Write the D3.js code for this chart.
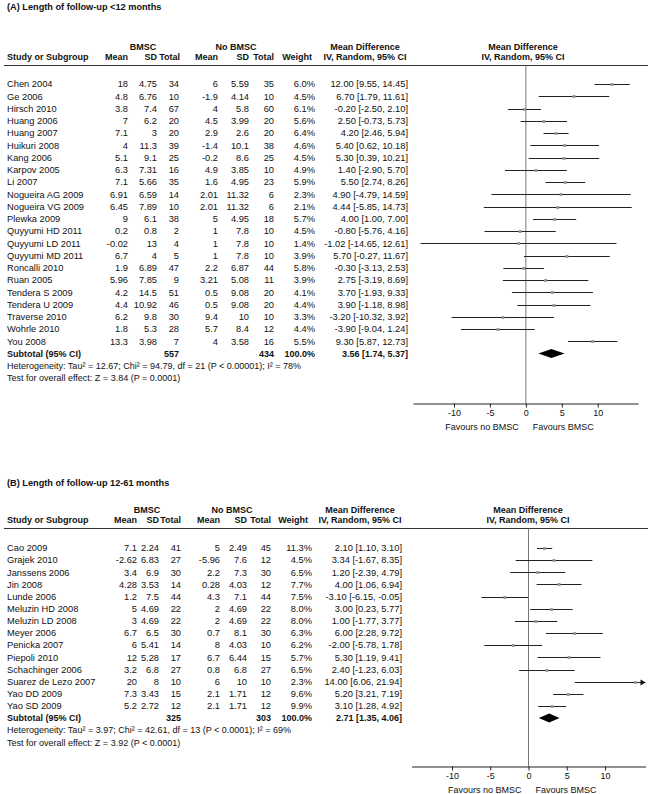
<!DOCTYPE html>
<html><head><meta charset="utf-8">
<script src="https://cdn.jsdelivr.net/npm/d3@7"></script>
<style>html,body{margin:0;padding:0;background:#fff}svg{display:block}text{font-family:"Liberation Sans",Arial,sans-serif}</style>
</head><body>
<script>
// ---------- Panel A data ----------
const titleA = "(A) Length of follow-up <12 months";
const studiesA = ["Chen 2004","Ge 2006","Hirsch 2010","Huang 2006","Huang 2007","Huikuri 2008","Kang 2006","Karpov 2005","Li 2007","Nogueira AG 2009","Nogueira VG 2009","Plewka 2009","Quyyumi HD 2011","Quyyumi LD 2011","Quyyumi MD 2011","Roncalli  2010","Ruan 2005","Tendera S 2009","Tendera U 2009","Traverse 2010","Wohrle 2010","You 2008"];
const bmscMeanA = [18,4.8,3.8,7,7.1,4,5.1,6.3,7.1,6.91,6.45,9,0.2,-0.02,6.7,1.9,5.96,4.2,4.4,6.2,1.8,13.3];
const bmscSDA = [4.75,6.76,7.4,6.2,3,11.3,9.1,7.31,5.66,6.59,7.89,6.1,0.8,13,4,6.89,7.85,14.5,10.92,9.8,5.3,3.98];
const bmscNA = [34,10,67,20,20,39,25,16,35,14,10,38,2,4,5,47,9,51,46,30,28,7];
const ctrlMeanA = [6,-1.9,4,4.5,2.9,-1.4,-0.2,4.9,1.6,2.01,2.01,5,1,1,1,2.2,3.21,0.5,0.5,9.4,5.7,4];
const ctrlSDA = [5.59,4.14,5.8,3.99,2.6,10.1,8.6,3.85,4.95,11.32,11.32,4.95,7.8,7.8,7.8,6.87,5.08,9.08,9.08,10,8.4,3.58];
const ctrlNA = [35,10,60,20,20,38,25,10,23,6,6,18,10,10,10,44,11,20,20,10,12,16];
const weightA = [6.0,4.5,6.1,5.6,6.4,4.6,4.5,4.9,5.9,2.3,2.1,5.7,4.5,1.4,3.9,5.8,3.9,4.1,4.4,3.3,4.4,5.5];
const mdA = [12.00,6.70,-0.20,2.50,4.20,5.40,5.30,1.40,5.50,4.90,4.44,4.00,-0.80,-1.02,5.70,-0.30,2.75,3.70,3.90,-3.20,-3.90,9.30];
const lowerA = [9.55,1.79,-2.50,-0.73,2.46,0.62,0.39,-2.90,2.74,-4.79,-5.85,1.00,-5.76,-14.65,-0.27,-3.13,-3.19,-1.93,-1.18,-10.32,-9.04,5.87];
const upperA = [14.45,11.61,2.10,5.73,5.94,10.18,10.21,5.70,8.26,14.59,14.73,7.00,4.16,12.61,11.67,2.53,8.69,9.33,8.98,3.92,1.24,12.73];
const subtotalA = {nB:557, nC:434, w:100.0, md:3.56, lo:1.74, hi:5.37};
const hetA = "Heterogeneity: Tau² = 12.67; Chi² = 94.79, df = 21 (P < 0.00001); I² = 78%";
const testA = "Test for overall effect: Z = 3.84 (P = 0.0001)";

// ---------- Panel B data ----------
const titleB = "(B) Length of follow-up 12-61 months";
const studiesB = ["Cao 2009","Grajek 2010","Janssens 2006","Jin 2008","Lunde 2006","Meluzin HD 2008","Meluzin LD 2008","Meyer 2006","Penicka 2007","Piepoli 2010","Schachinger 2006","Suarez de Lezo 2007","Yao DD 2009","Yao SD 2009"];
const bmscMeanB = [7.1,-2.62,3.4,4.28,1.2,5,3,6.7,6,12,3.2,20,7.3,5.2];
const bmscSDB = [2.24,6.83,6.9,3.53,7.5,4.69,4.69,6.5,5.41,5.28,6.8,8,3.43,2.72];
const bmscNB = [41,27,30,14,44,22,22,30,14,17,27,10,15,12];
const ctrlMeanB = [5,-5.96,2.2,0.28,4.3,2,2,0.7,8,6.7,0.8,6,2.1,2.1];
const ctrlSDB = [2.49,7.6,7.3,4.03,7.1,4.69,4.69,8.1,4.03,6.44,6.8,10,1.71,1.71];
const ctrlNB = [45,12,30,12,44,22,22,30,10,15,27,10,12,12];
const weightB = [11.3,4.5,6.5,7.7,7.5,8.0,8.0,6.3,6.2,5.7,6.5,2.3,9.6,9.9];
const mdB = [2.10,3.34,1.20,4.00,-3.10,3.00,1.00,6.00,-2.00,5.30,2.40,14.00,5.20,3.10];
const lowerB = [1.10,-1.67,-2.39,1.06,-6.15,0.23,-1.77,2.28,-5.78,1.19,-1.23,6.06,3.21,1.28];
const upperB = [3.10,8.35,4.79,6.94,-0.05,5.77,3.77,9.72,1.78,9.41,6.03,21.94,7.19,4.92];
const subtotalB = {nB:325, nC:303, w:100.0, md:2.71, lo:1.35, hi:4.06};
const hetB = "Heterogeneity: Tau² = 3.97; Chi² = 42.61, df = 13 (P < 0.0001); I² = 69%";
const testB = "Test for overall effect: Z = 3.92 (P < 0.0001)";

// ---------- shared labels ----------
const tickValues = [-10,-5,0,5,10];
const colHeaders = ["Mean","SD","Total","Mean","SD","Total","Weight"];
const favLeft = "Favours no BMSC", favRight = "Favours BMSC";

const W = 660, H = 794;
const svg = d3.select("body").append("svg").attr("width", W).attr("height", H);
svg.append("rect").attr("width", W).attr("height", H).attr("fill", "#fff");

const f2 = v => v.toFixed(2);
const ciText = (m, l, h) => `${f2(m)} [${f2(l)}, ${f2(h)}]`;
const FS = 9.3, FSB = 9;

function drawPanel(p) {
  const g = svg.append("g");
  const n = p.studies.length;
  const yRow = d3.scaleLinear().domain([0, 1]).range([p.row0, p.row0 + p.step]);
  const x = d3.scaleLinear().domain(p.domain).range(p.range);
  const txt = (s, xx, yy, anchor, bold, size) => g.append("text")
      .attr("x", xx).attr("y", yy).attr("dy", "0.35em")
      .attr("text-anchor", anchor || "start")
      .attr("font-size", size || (bold ? FSB : FS))
      .attr("font-weight", bold ? "bold" : "normal")
      .attr("fill", "#111").text(s);

  txt(p.title, 7, p.titleY, "start", true, 9.2);
  txt("BMSC", p.bmscC, p.h1Y, "middle", true);
  txt("No BMSC", p.noC, p.h1Y, "middle", true);
  txt("Mean Difference", p.mdC, p.h1Y, "middle", true);
  txt("Mean Difference", p.plotC, p.h1Y, "middle", true);
  txt("Study or Subgroup", 7, p.h2Y, "start", true);
  colHeaders.forEach((h, i) => txt(h, p.hcols[i], p.h2Y, "end", true));
  txt("IV, Random, 95% CI", p.mdC, p.h2Y, "middle", true);
  txt("IV, Random, 95% CI", p.plotC, p.h2Y, "middle", true);
  g.append("line").attr("x1", 4).attr("x2", 648).attr("y1", p.ruleY).attr("y2", p.ruleY)
    .attr("stroke", "#333").attr("stroke-width", 1);

  p.studies.forEach((s, i) => {
    const y = yRow(i);
    txt(s, 7, y);
    const vals = [p.bm[i], p.bsd[i], p.bn[i], p.cm[i], p.csd[i], p.cn[i], p.w[i].toFixed(1) + "%", ciText(p.md[i], p.lo[i], p.hi[i])];
    vals.forEach((v, j) => txt(String(v), p.cols[j], y, "end"));
  });
  const ys = yRow(n);
  txt("Subtotal (95% CI)", 7, ys, "start", true);
  txt(String(p.sub.nB), p.cols[2], ys, "end", true);
  txt(String(p.sub.nC), p.cols[5], ys, "end", true);
  txt(p.sub.w.toFixed(1) + "%", p.cols[6], ys, "end", true);
  txt(ciText(p.sub.md, p.sub.lo, p.sub.hi), p.cols[7], ys, "end", true);
  txt(p.het, 7, yRow(n + 1), "start", false, 9);
  txt(p.test, 7, yRow(n + 2), "start", false, 9);

  g.append("line").attr("x1", x(0)).attr("x2", x(0)).attr("y1", p.ruleY).attr("y2", p.axisY)
    .attr("stroke", "#777").attr("stroke-width", 1);

  const [dmin, dmax] = p.domain;
  p.studies.forEach((s, i) => {
    const y = Math.round(yRow(i)) + 0.5;
    const lo = Math.max(p.lo[i], dmin), hi = Math.min(p.hi[i], dmax);
    g.append("line").attr("x1", x(lo)).attr("x2", x(hi)).attr("y1", y).attr("y2", y)
      .attr("stroke", "#222").attr("stroke-width", 1);
    if (p.hi[i] > dmax) {
      const xe = x(dmax);
      g.append("path").attr("d", `M${xe},${y} L${xe - 5},${y - 3} L${xe - 5},${y + 3} Z`).attr("fill", "#111");
    }
    g.append("rect").attr("x", x(p.md[i]) - 1.5).attr("y", y - 1.5).attr("width", 3).attr("height", 3)
      .attr("fill", "#9a9a9a");
  });
  const yd = yRow(n);
  g.append("path")
    .attr("d", `M${x(p.sub.lo)},${yd} L${x(p.sub.md)},${yd - 4.5} L${x(p.sub.hi)},${yd} L${x(p.sub.md)},${yd + 4.5} Z`)
    .attr("fill", "#000");

  const axis = d3.axisBottom(x).tickValues(tickValues).tickSize(4).tickSizeOuter(0).tickFormat(d => String(d));
  const ag = g.append("g").attr("transform", `translate(0,${p.axisY})`).call(axis);
  ag.select(".domain").attr("stroke", "#222");
  ag.selectAll(".tick line").attr("stroke", "#222");
  ag.selectAll(".tick text").attr("font-size", 9).attr("fill", "#111")
    .attr("font-family", '"Liberation Sans",Arial,sans-serif').attr("y", 6);
  txt(favLeft, x(0) - 7, p.axisY + 23, "end", false, 9);
  txt(favRight, x(0) + 7, p.axisY + 23, "start", false, 9);
}

drawPanel({
  title: titleA, titleY: 7, h1Y: 47, h2Y: 57, ruleY: 65.5, row0: 84, step: 12.25, axisY: 403.5,
  bmscC: 143, noC: 236, mdC: 365, plotC: 523,
  cols: [128, 157, 179, 218, 249, 274, 315, 408],
  hcols: [128, 157, 180, 218, 249, 274, 312],
  domain: [-15.7, 15.6], range: [413, 638],
  studies: studiesA, bm: bmscMeanA, bsd: bmscSDA, bn: bmscNA, cm: ctrlMeanA, csd: ctrlSDA, cn: ctrlNA,
  w: weightA, md: mdA, lo: lowerA, hi: upperA, sub: subtotalA, het: hetA, test: testA
});
drawPanel({
  title: titleB, titleY: 483, h1Y: 510, h2Y: 520, ruleY: 528.5, row0: 548, step: 12.15, axisY: 766.5,
  bmscC: 147, noC: 232, mdC: 360, plotC: 528,
  cols: [137, 159, 181, 220, 247, 271, 312, 402],
  hcols: [137, 159, 181, 220, 247, 271, 308],
  domain: [-15.3, 15.3], range: [411.5, 645.5],
  studies: studiesB, bm: bmscMeanB, bsd: bmscSDB, bn: bmscNB, cm: ctrlMeanB, csd: ctrlSDB, cn: ctrlNB,
  w: weightB, md: mdB, lo: lowerB, hi: upperB, sub: subtotalB, het: hetB, test: testB
});
</script>
</body></html>
